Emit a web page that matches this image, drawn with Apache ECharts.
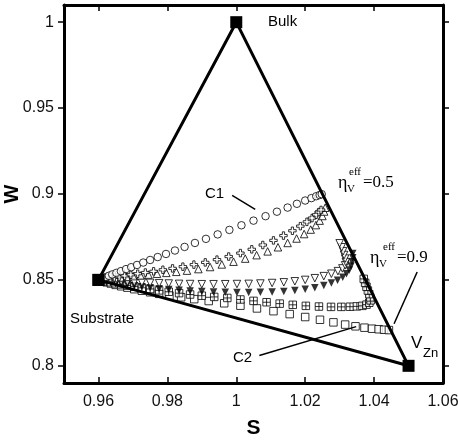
<!DOCTYPE html>
<html lang="en">
<head>
  <meta charset="UTF-8">
  <title>S-W diagram</title>
  <style>
    * { margin: 0; padding: 0; }
    body { background: #fff; overflow: hidden; }
    #chart { width: 458px; height: 443px; }
  </style>
</head>
<body>
  <div id="chart"></div>
  <script src="https://cdn.jsdelivr.net/npm/echarts@6/dist/echarts.min.js"></script>
  <script>
    // ticks
    const xTicks = [0.96, 0.98, 1, 1.02, 1.04, 1.06];
    const yTicks = [0.8, 0.85, 0.9, 0.95, 1];

    // triangle corners: substrate -> bulk -> V_Zn -> substrate
    const trianglePath = [[0.96, 0.85], [1, 1], [1.05, 0.8], [0.96, 0.85]];

    // series (S, W)
    const circles = [[0.9605,0.8504],[0.9612,0.851],[0.962,0.8516],[0.963,0.8524],[0.964,0.8532],[0.9652,0.8541],[0.9665,0.8551],[0.968,0.8563],[0.9695,0.8574],[0.9712,0.8587],[0.973,0.8601],[0.975,0.8616],[0.9772,0.8633],[0.9796,0.8651],[0.9822,0.8671],[0.985,0.8692],[0.988,0.8715],[0.9912,0.8739],[0.9946,0.8765],[0.998,0.8791],[1.0015,0.8818],[1.005,0.8845],[1.0085,0.8871],[1.0118,0.8897],[1.0149,0.8921],[1.0176,0.8943],[1.02,0.8962],[1.0218,0.8976],[1.0232,0.8987],[1.0242,0.8994],[1.0248,0.8999]];
    const crosses = [[0.9606,0.8502],[0.9614,0.8505],[0.9623,0.8508],[0.9634,0.8511],[0.9646,0.8515],[0.966,0.8519],[0.9676,0.8524],[0.9694,0.853],[0.9714,0.8536],[0.9736,0.8543],[0.976,0.855],[0.9787,0.8559],[0.9815,0.8567],[0.9845,0.8577],[0.9877,0.8589],[0.991,0.8602],[0.9944,0.8618],[0.9978,0.8636],[1.0012,0.8656],[1.0045,0.8678],[1.0077,0.8703],[1.0108,0.873],[1.0137,0.8758],[1.0163,0.8786],[1.0186,0.8813],[1.0205,0.8838],[1.022,0.886],[1.0232,0.8879],[1.024,0.8895],[1.0246,0.8907]];
    const trianglesUp = [[0.9606,0.8501],[0.9615,0.8503],[0.9625,0.8505],[0.9637,0.8508],[0.965,0.8511],[0.9665,0.8514],[0.9682,0.8518],[0.9701,0.8522],[0.9722,0.8526],[0.9745,0.8531],[0.977,0.8536],[0.9797,0.8541],[0.9826,0.8547],[0.9857,0.8554],[0.989,0.8563],[0.9924,0.8575],[0.9958,0.859],[0.9992,0.8606],[1.0026,0.8624],[1.0059,0.8644],[1.0091,0.8666],[1.0121,0.869],[1.0149,0.8715],[1.0175,0.8741],[1.0197,0.8767],[1.0216,0.8793],[1.0231,0.8819],[1.0242,0.8845],[1.025,0.8872],[1.0255,0.8898],[1.0258,0.892]];
    const trianglesDown = [[0.9606,0.85],[0.9614,0.8499],[0.9624,0.8497],[0.9636,0.8495],[0.965,0.8493],[0.9666,0.8491],[0.9684,0.8489],[0.9704,0.8487],[0.9726,0.8485],[0.975,0.8483],[0.9776,0.8481],[0.9804,0.8479],[0.9834,0.8477],[0.9866,0.8476],[0.99,0.8475],[0.9934,0.8475],[0.9968,0.8475],[1.0002,0.8476],[1.0036,0.8477],[1.007,0.8479],[1.0104,0.8482],[1.0138,0.8486],[1.017,0.8492],[1.02,0.85],[1.0228,0.851],[1.0254,0.8522],[1.0276,0.8536],[1.0295,0.8551],[1.0308,0.8567],[1.0316,0.8585],[1.0318,0.8604],[1.0316,0.8624],[1.0313,0.8645],[1.031,0.8667],[1.0306,0.869],[1.03,0.8713]];
    const trianglesDownFilled = [[0.9606,0.8498],[0.9614,0.8495],[0.9624,0.8491],[0.9636,0.8487],[0.965,0.8482],[0.9666,0.8477],[0.9684,0.8472],[0.9704,0.8466],[0.9726,0.846],[0.975,0.8454],[0.9776,0.8449],[0.9804,0.8444],[0.9834,0.844],[0.9866,0.8436],[0.99,0.8432],[0.9934,0.843],[0.9968,0.8428],[1.0002,0.8427],[1.0036,0.8427],[1.007,0.8428],[1.0104,0.843],[1.0138,0.8433],[1.017,0.8438],[1.02,0.8445],[1.0228,0.8455],[1.0254,0.8467],[1.0276,0.8482],[1.0294,0.8498],[1.0309,0.8516],[1.032,0.8536],[1.0328,0.8558],[1.0333,0.8581],[1.0336,0.8605],[1.0338,0.8629],[1.0338,0.8653]];
    const gridSquares = [[0.9606,0.8498],[0.9614,0.8495],[0.9624,0.8491],[0.9636,0.8486],[0.965,0.848],[0.9666,0.8474],[0.9684,0.8467],[0.9704,0.8461],[0.9726,0.8454],[0.975,0.8447],[0.9776,0.8439],[0.9804,0.8431],[0.9834,0.8423],[0.9866,0.8415],[0.99,0.8408],[0.9936,0.8401],[0.9974,0.8395],[1.0012,0.8386],[1.005,0.8378],[1.0088,0.837],[1.0126,0.8362],[1.0164,0.8355],[1.0202,0.8349],[1.024,0.8345],[1.0275,0.8343],[1.0305,0.8343],[1.033,0.8344],[1.035,0.8346],[1.0366,0.8349],[1.0378,0.8356],[1.0386,0.8367],[1.039,0.8381],[1.0389,0.8398],[1.0386,0.8417],[1.0382,0.8438],[1.0378,0.846],[1.0374,0.8483],[1.037,0.8506]];
    const squares = [[0.9606,0.8497],[0.9614,0.8492],[0.9624,0.8486],[0.9636,0.8479],[0.965,0.8471],[0.9666,0.8463],[0.9684,0.8455],[0.9704,0.8446],[0.9726,0.8437],[0.975,0.8428],[0.9776,0.8419],[0.9806,0.8409],[0.984,0.8399],[0.9878,0.8388],[0.992,0.8377],[0.9965,0.8364],[1.0012,0.835],[1.006,0.8334],[1.0108,0.8318],[1.0155,0.8301],[1.02,0.8284],[1.0243,0.8268],[1.0282,0.8253],[1.0316,0.824],[1.0346,0.823],[1.0372,0.8222],[1.0394,0.8216],[1.0413,0.8213],[1.0429,0.821],[1.0443,0.8208]];

    // leader lines for the labels
    const c1Pointer = [[0.9988, 0.8992], [1.0055, 0.8911]];
    const c2Pointer = [[1.0067, 0.806], [1.0348, 0.8228]];
    const eta09Pointer = [[1.0525, 0.8546], [1.0458, 0.8245]];

    const FONT = 'Liberation Sans, Arial, sans-serif';
    const SERIF = 'Liberation Serif, Times New Roman, serif';

    const openStyle = { color: '#fff', borderColor: '#000', borderWidth: 1 };

    function markerSeries(data, symbol, opts) {
      return Object.assign({
        type: 'scatter',
        data: data,
        symbol: symbol,
        symbolSize: 7.5,
        itemStyle: openStyle,
        silent: true,
        z: 2
      }, opts || {});
    }

    function pointer(data) {
      return {
        type: 'line',
        data: data,
        symbol: 'none',
        lineStyle: { color: '#000', width: 1.5 },
        silent: true,
        z: 3
      };
    }

    const chart = echarts.init(document.getElementById('chart'));

    const baseX = {
      type: 'value',
      min: 0.95,
      max: 1.06,
      splitLine: { show: false },
      axisLine: { show: true, onZero: false, lineStyle: { color: '#000', width: 3 } },
      axisTick: { show: true, inside: true, length: 6, lineStyle: { color: '#000', width: 1.5 }, customValues: xTicks }
    };
    const baseY = {
      type: 'value',
      min: 0.79,
      max: 1.01,
      splitLine: { show: false },
      axisLine: { show: true, onZero: false, lineStyle: { color: '#000', width: 3 } },
      axisTick: { show: true, inside: false, length: 6, lineStyle: { color: '#000', width: 1.5 }, customValues: yTicks }
    };

    chart.setOption({
      animation: false,
      backgroundColor: '#fff',
      grid: { left: 64, right: 15, top: 5, bottom: 60, containLabel: false, outerBoundsMode: 'none' },
      xAxis: [
        Object.assign({}, baseX, {
          position: 'bottom',
          name: 'S',
          nameLocation: 'middle',
          nameGap: 35,
          nameMoveOverlap: false,
          nameTextStyle: { fontFamily: FONT, fontSize: 21, fontWeight: 'bold', color: '#000' },
          axisLabel: { customValues: xTicks, fontFamily: FONT, fontSize: 16, color: '#111', margin: 11 }
        }),
        Object.assign({}, baseX, {
          position: 'top',
          axisLabel: { show: false }
        })
      ],
      yAxis: [
        Object.assign({}, baseY, {
          position: 'left',
          name: 'W',
          nameLocation: 'middle',
          nameGap: 42,
          nameMoveOverlap: false,
          nameTextStyle: { fontFamily: FONT, fontSize: 20, fontWeight: 'bold', color: '#000' },
          axisLabel: { customValues: yTicks, fontFamily: FONT, fontSize: 16, color: '#111', margin: 10 }
        }),
        Object.assign({}, baseY, {
          position: 'right',
          axisLabel: { show: false }
        })
      ],
      series: [
        markerSeries(squares, 'rect'),
        markerSeries(gridSquares, 'path://M0,0H10V10H0Z M5,0V10 M0,5H10'),
        markerSeries(trianglesDownFilled, 'triangle', { symbolRotate: 180, itemStyle: { color: '#000' } }),
        markerSeries(trianglesDown, 'triangle', { symbolRotate: 180 }),
        markerSeries(trianglesUp, 'triangle'),
        markerSeries(crosses, 'path://M3.5,0H6.5V3.5H10V6.5H6.5V10H3.5V6.5H0V3.5H3.5Z'),
        markerSeries(circles, 'circle'),
        pointer(c1Pointer),
        pointer(c2Pointer),
        pointer(eta09Pointer),
        {
          type: 'line',
          data: trianglePath,
          symbol: 'rect',
          symbolSize: 12,
          itemStyle: { color: '#000' },
          lineStyle: { color: '#000', width: 3 },
          silent: true,
          z: 4
        }
      ],
      graphic: [
        { type: 'text', left: 268, top: 14, style: { text: 'Bulk', font: '15px ' + FONT, fill: '#000' } },
        { type: 'text', left: 205, top: 186, style: { text: 'C1', font: '15px ' + FONT, fill: '#000' } },
        { type: 'text', left: 233, top: 350, style: { text: 'C2', font: '15px ' + FONT, fill: '#000' } },
        { type: 'text', left: 70, top: 311, style: { text: 'Substrate', font: '15px ' + FONT, fill: '#000' } },
        { type: 'text', left: 411, top: 335, style: { text: 'V', font: '17px ' + FONT, fill: '#000' } },
        { type: 'text', left: 423, top: 347, style: { text: 'Zn', font: '13px ' + FONT, fill: '#000' } },

        { type: 'text', left: 338, top: 174, style: { text: 'η', font: '18px ' + SERIF, fill: '#000' } },
        { type: 'text', left: 347, top: 184, style: { text: 'V', font: '11px ' + SERIF, fill: '#000' } },
        { type: 'text', left: 349, top: 167, style: { text: 'eff', font: '11px ' + SERIF, fill: '#000' } },
        { type: 'text', left: 363, top: 174, style: { text: '=0.5', font: '17px ' + SERIF, fill: '#000' } },

        { type: 'text', left: 370, top: 249, style: { text: 'η', font: '18px ' + SERIF, fill: '#000' } },
        { type: 'text', left: 379, top: 259, style: { text: 'V', font: '11px ' + SERIF, fill: '#000' } },
        { type: 'text', left: 383, top: 242, style: { text: 'eff', font: '11px ' + SERIF, fill: '#000' } },
        { type: 'text', left: 397, top: 249, style: { text: '=0.9', font: '17px ' + SERIF, fill: '#000' } }
      ]
    });
  </script>
</body>
</html>
